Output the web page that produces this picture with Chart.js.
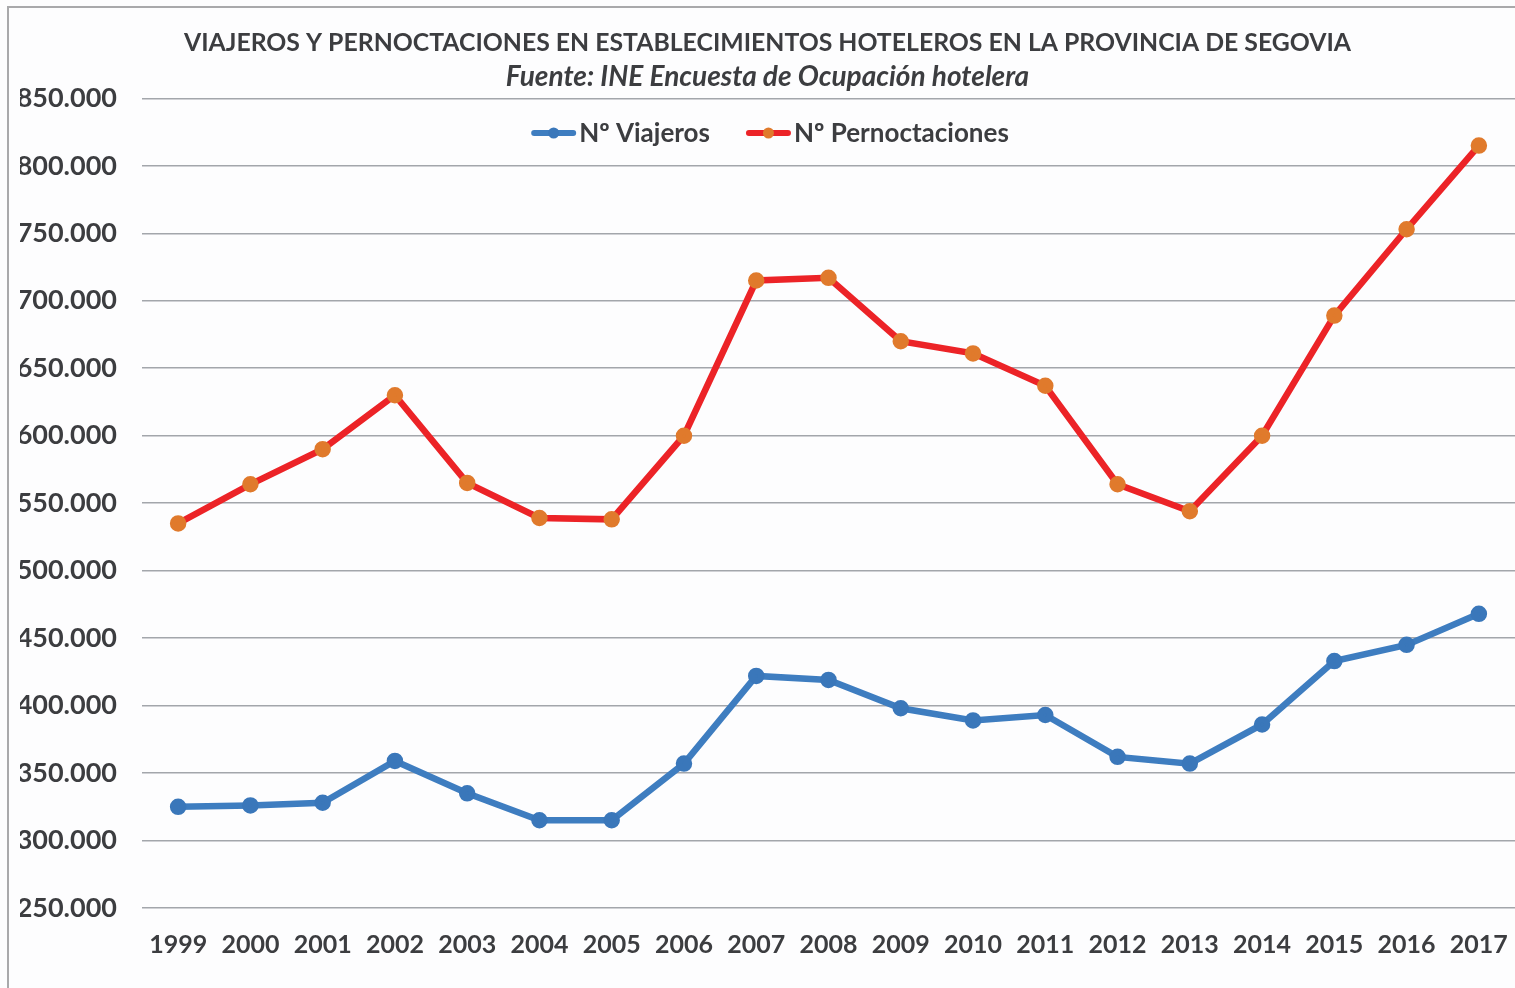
<!DOCTYPE html>
<html>
  <head>
    <meta charset="utf-8"/>
    <style type="text/css">
      html, body {
        margin: 0px;
        padding: 0px;
        overflow: hidden;
        background-color: #fdfdfe;
      }
      #wrap {
        position: relative;
        width: 1515px;
        height: 988px;
      }
      #chart {
        display: block;
      }
    </style>
  </head>
  <body>
    <div id="wrap"><canvas id="chart" width="1515" height="988"></canvas></div>
  </body>
  <script src="https://cdn.jsdelivr.net/npm/chart.js@4.4.1/dist/chart.umd.min.js"></script>
  <script>
    // datos (INE, Segovia)
    var years = ['1999','2000','2001','2002','2003','2004','2005','2006','2007','2008',
                 '2009','2010','2011','2012','2013','2014','2015','2016','2017'];
    var viajeros = [325000, 326000, 328000, 359000, 335000, 315000, 315000, 357000, 422000, 419000,
                    398000, 389000, 393000, 362000, 357000, 386000, 433000, 445000, 468000];
    var pernoctaciones = [535000, 564000, 590000, 630000, 565000, 539000, 538000, 600000, 715000, 717000,
                          670000, 661000, 637000, 564000, 544000, 600000, 689000, 753000, 815000];
    var yTicks = [250000, 300000, 350000, 400000, 450000, 500000, 550000, 600000, 650000, 700000, 750000, 800000, 850000];

    var textColor = '#3c3d40';
    var fontFam = 'Lato, "Open Sans", sans-serif';

    function miles(v) {
      return String(v).replace(/\B(?=(\d{3})+(?!\d))/g, '.');
    }

    // fondo y marco gris (solo arriba e izquierda, el resto queda recortado)
    var framePlugin = {
      id: 'frame',
      beforeDraw: function(chart) {
        var ctx = chart.ctx;
        ctx.save();
        ctx.fillStyle = '#fdfdfe';
        ctx.fillRect(0, 0, chart.width, chart.height);
        ctx.strokeStyle = '#a9a9ab';
        ctx.lineWidth = 2;
        ctx.beginPath();
        ctx.moveTo(8, chart.height);
        ctx.lineTo(8, 7);
        ctx.lineTo(chart.width, 7);
        ctx.stroke();
        ctx.restore();
      }
    };

    // leyenda dentro del area del grafico: linea + punto
    var legendPlugin = {
      id: 'inlegend',
      afterDraw: function(chart) {
        var ctx = chart.ctx;
        var y = 133, sample = 45, gap = 3, between = 36;
        ctx.save();
        ctx.font = 'bold 26px ' + fontFam;
        ctx.textBaseline = 'middle';
        var sets = chart.data.datasets;
        var total = 0;
        sets.forEach(function(ds, i) {
          total += sample + gap + ctx.measureText(ds.label).width;
          if (i < sets.length - 1) total += between;
        });
        var x = 770 - total / 2;
        sets.forEach(function(ds) {
          ctx.strokeStyle = ds.borderColor;
          ctx.lineWidth = 6;
          ctx.lineCap = 'round';
          ctx.beginPath();
          ctx.moveTo(x + 3, y);
          ctx.lineTo(x + sample - 3, y);
          ctx.stroke();
          ctx.fillStyle = ds.pointBackgroundColor;
          ctx.beginPath();
          ctx.arc(x + sample / 2, y, 5.5, 0, Math.PI * 2);
          ctx.fill();
          x += sample + gap;
          ctx.fillStyle = textColor;
          ctx.fillText(ds.label, x, y + 1);
          x += ctx.measureText(ds.label).width + between;
        });
        ctx.restore();
      }
    };

    var data = {
      labels: years,
      datasets: [{
        label: 'Nº Viajeros',
        data: viajeros,
        borderColor: '#3e7dc0',
        backgroundColor: '#3e7dc0',
        pointBackgroundColor: '#3a77ba',
        pointBorderColor: '#3a77ba',
        borderWidth: 6.5,
        pointRadius: 5,
        tension: 0
      }, {
        label: 'Nº Pernoctaciones',
        data: pernoctaciones,
        borderColor: '#ec2327',
        backgroundColor: '#ec2327',
        pointBackgroundColor: '#e07a2c',
        pointBorderColor: '#e07a2c',
        borderWidth: 6.5,
        pointRadius: 5,
        tension: 0
      }]
    };

    var options = {
      responsive: false,
      animation: false,
      devicePixelRatio: 1,
      layout: { autoPadding: false, padding: { left: 20, right: 0, top: 0, bottom: 0 } },
      plugins: {
        legend: { display: false },
        tooltip: { enabled: false },
        title: {
          display: true,
          text: 'VIAJEROS Y PERNOCTACIONES EN ESTABLECIMIENTOS HOTELEROS EN LA PROVINCIA DE SEGOVIA',
          color: textColor,
          font: { family: fontFam, size: 24.8, weight: 'bold', lineHeight: 1.2 },
          padding: { top: 28, bottom: 2 }
        },
        subtitle: {
          display: true,
          text: 'Fuente: INE Encuesta de Ocupación hotelera',
          color: textColor,
          font: { family: fontFam, size: 28, weight: 'bold', style: 'italic', lineHeight: 1.2 },
          padding: { top: 0, bottom: 5 }
        }
      },
      scales: {
        x: {
          offset: true,
          // marcas invisibles para bajar las etiquetas sin reservar margen a la derecha
          grid: { display: true, drawOnChartArea: false, drawTicks: true, tickLength: 22, tickColor: 'rgba(0,0,0,0)' },
          border: { display: false },
          ticks: {
            color: textColor,
            padding: 0,
            maxRotation: 0,
            autoSkip: false,
            font: { family: fontFam, size: 25, weight: 'bold' }
          },
          afterFit: function(scale) {
            scale.height = 80;
            scale.paddingRight = 0;
          }
        },
        y: {
          min: 250000,
          max: 850000,
          afterBuildTicks: function(scale) {
            scale.ticks = yTicks.map(function(v) { return { value: v }; });
          },
          grid: { color: '#a3a6ab', lineWidth: 1.5, drawTicks: false },
          border: { display: false },
          ticks: {
            color: textColor,
            padding: 25,
            font: { family: fontFam, size: 27, weight: 'bold' },
            callback: function(v) { return miles(v); }
          },
          afterFit: function(scale) { scale.width = 122; }
        }
      }
    };

    var chart = new Chart(document.getElementById('chart'), {
      type: 'line',
      data: data,
      options: options,
      plugins: [framePlugin, legendPlugin]
    });
  </script>
</html>
